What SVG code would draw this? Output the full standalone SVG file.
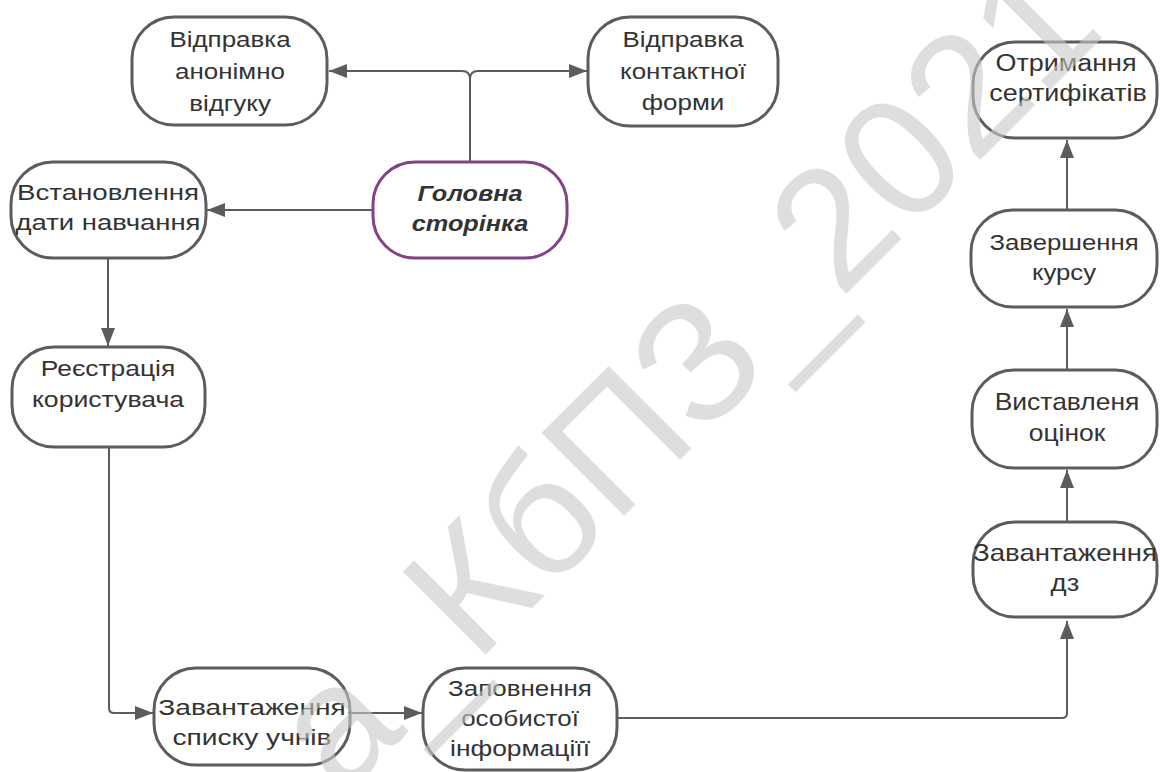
<svg xmlns="http://www.w3.org/2000/svg" width="1160" height="772" viewBox="0 0 1160 772">
<style>
.bg{fill:#ffffff}
.node{fill:#ffffff;stroke:#5c5c5c;stroke-width:3}
.main{fill:#ffffff;stroke:#834187;stroke-width:3}
.t{font-family:"Liberation Sans",Arial,sans-serif;font-size:22px;fill:#333333;text-anchor:middle}
.tr{font-family:"Liberation Sans",Arial,sans-serif;font-size:23px;fill:#333333;text-anchor:middle}
.tb{font-family:"Liberation Sans",Arial,sans-serif;font-size:22px;fill:#333333;text-anchor:middle;font-weight:bold;font-style:italic}
.conn{fill:none;stroke:#5c5c5c;stroke-width:2}
.wm{font-family:"Liberation Sans",Arial,sans-serif;font-size:170px;fill:#c8c8c8;fill-opacity:0.6}
</style>
<defs>
<marker id="arr" markerUnits="userSpaceOnUse" markerWidth="18" markerHeight="14" refX="18" refY="7" orient="auto">
<path d="M0,0 L18,7 L0,14 z" fill="#5c5c5c"/>
</marker>
</defs>
<rect class="bg" x="0" y="0" width="1160" height="772"/>
<g id="connectors">
<path class="conn" d="M470,162 V79 Q470,71 462,71 H329" marker-end="url(#arr)"/>
<path class="conn" d="M470,162 V79 Q470,71 478,71 H587" marker-end="url(#arr)"/>
<path class="conn" d="M373,210 H207" marker-end="url(#arr)"/>
<path class="conn" d="M108,258 V346" marker-end="url(#arr)"/>
<path class="conn" d="M109,447 V708 Q109,713 114,713 H153" marker-end="url(#arr)"/>
<path class="conn" d="M350,713 H422" marker-end="url(#arr)"/>
<path class="conn" d="M617,718 H1062 Q1067,718 1067,713 V621" marker-end="url(#arr)"/>
<path class="conn" d="M1067,522 V470" marker-end="url(#arr)"/>
<path class="conn" d="M1067,370 V309" marker-end="url(#arr)"/>
<path class="conn" d="M1067,210 V140" marker-end="url(#arr)"/>
</g>
<g id="n-anon">
<rect class="node" x="132" y="17" width="195" height="108" rx="42"/>
<text class="t" transform="translate(230,47) scale(1.18,1)">Відправка</text>
<text class="t" transform="translate(230,79) scale(1.18,1)">анонімно</text>
<text class="t" transform="translate(230,111) scale(1.18,1)">відгуку</text>
</g>
<g id="n-contact">
<rect class="node" x="588" y="17" width="190" height="109" rx="42"/>
<text class="t" transform="translate(683,47) scale(1.18,1)">Відправка</text>
<text class="t" transform="translate(683,79) scale(1.18,1)">контактної</text>
<text class="t" transform="translate(683,110) scale(1.18,1)">форми</text>
</g>
<g id="n-main">
<rect class="main" x="373" y="162" width="194" height="96" rx="42"/>
<text class="tb" transform="translate(470,201) scale(1.15,1)">Головна</text>
<text class="tb" transform="translate(470,231) scale(1.15,1)">сторінка</text>
</g>
<g id="n-date">
<rect class="node" x="11" y="162" width="195" height="96" rx="42"/>
<text class="t" transform="translate(108,200) scale(1.26,1)">Встановлення</text>
<text class="t" transform="translate(108,230) scale(1.25,1)">дати навчання</text>
</g>
<g id="n-reg">
<rect class="node" x="12" y="347" width="193" height="100" rx="42"/>
<text class="t" transform="translate(108,376) scale(1.2,1)">Реєстрація</text>
<text class="t" transform="translate(108,407) scale(1.21,1)">користувача</text>
</g>
<g id="n-list">
<rect class="node" x="154" y="668" width="196" height="97" rx="42"/>
<text class="t" transform="translate(252,715) scale(1.28,1)">Завантаження</text>
<text class="t" transform="translate(252,745) scale(1.28,1)">списку учнів</text>
</g>
<g id="n-info">
<rect class="node" x="423" y="668" width="194" height="102" rx="42"/>
<text class="t" transform="translate(520,696) scale(1.18,1)">Заповнення</text>
<text class="t" transform="translate(520,726) scale(1.18,1)">особистої</text>
<text class="t" transform="translate(520,756) scale(1.2,1)">інформаціїї</text>
</g>
<g id="n-cert">
<rect class="node" x="973" y="42" width="184" height="96" rx="42"/>
<text class="tr" transform="translate(1066,71) scale(1.17,1)">Отримання</text>
<text class="tr" transform="translate(1068,101) scale(1.17,1)">сертифікатів</text>
</g>
<g id="n-finish">
<rect class="node" x="971" y="210" width="186" height="97" rx="42"/>
<text class="tr" transform="translate(1064,250) scale(1.12,1)">Завершення</text>
<text class="tr" transform="translate(1064,280) scale(1.12,1)">курсу</text>
</g>
<g id="n-grades">
<rect class="node" x="972" y="370" width="185" height="98" rx="42"/>
<text class="tr" transform="translate(1067,410) scale(1.15,1)">Виставленя</text>
<text class="tr" transform="translate(1067,441) scale(1.15,1)">оцінок</text>
</g>
<g id="n-hw">
<rect class="node" x="973" y="522" width="184" height="95" rx="42"/>
<text class="tr" transform="translate(1065,561) scale(1.2,1)">Завантаження</text>
<text class="tr" transform="translate(1065,591) scale(1.2,1)">дз</text>
</g>
<text class="wm" transform="translate(342,798) rotate(-45)">а_КбПЗ_2021</text>
</svg>
